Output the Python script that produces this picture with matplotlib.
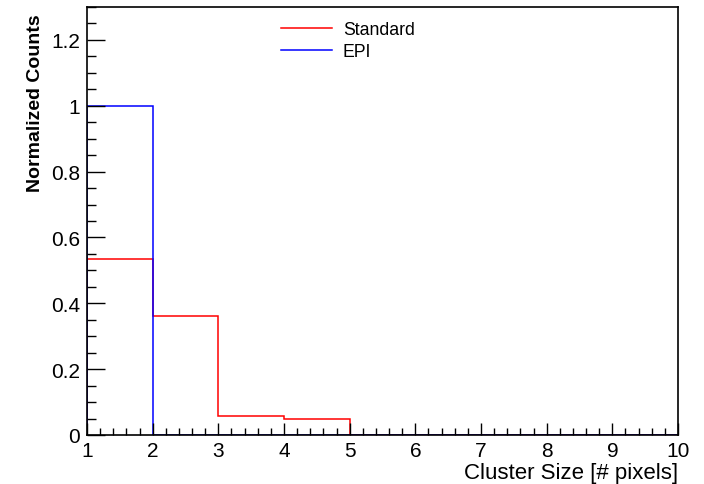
import numpy as np
import matplotlib
matplotlib.use('Agg')
import matplotlib.pyplot as plt
from matplotlib.ticker import MultipleLocator, FuncFormatter

plt.rcParams['font.family'] = ['Liberation Sans', 'DejaVu Sans']

# histogram data (bin edges = cluster size)
bin_edges = [1, 2, 3, 4, 5, 6, 7, 8, 9, 10]
standard_counts = [0.535, 0.362, 0.059, 0.049, 0, 0, 0, 0, 0]
epi_counts = [1.0, 0, 0, 0, 0, 0, 0, 0, 0]

fig = plt.figure(figsize=(7.04, 4.85), dpi=100)
ax = fig.add_axes([87 / 704, 1 - 436 / 485, (678 - 87) / 704, (436 - 8) / 485])

ax.stairs(standard_counts, bin_edges, baseline=0, color='#ff0000', lw=1.1, label='Standard')
ax.stairs(epi_counts, bin_edges, baseline=0, color='#0000ff', lw=1.1, label='EPI')

ax.set_xlim(1, 10)
ax.set_ylim(0, 1.3)

ax.xaxis.set_major_locator(MultipleLocator(1))
ax.xaxis.set_minor_locator(MultipleLocator(0.2))
ax.yaxis.set_major_locator(MultipleLocator(0.2))
ax.yaxis.set_minor_locator(MultipleLocator(0.05))


def fmt(v, pos):
    s = f"{v:.1f}"
    return s[:-2] if s.endswith('.0') else s


ax.xaxis.set_major_formatter(FuncFormatter(fmt))
ax.yaxis.set_major_formatter(FuncFormatter(fmt))

ax.tick_params(axis='x', which='major', direction='in', length=9, width=1, labelsize=15, pad=4)
ax.tick_params(axis='x', which='minor', direction='in', length=5, width=1)
ax.tick_params(axis='y', which='major', direction='in', length=13, width=1, labelsize=15, pad=5)
ax.tick_params(axis='y', which='minor', direction='in', length=6.5, width=1)
for sp in ax.spines.values():
    sp.set_linewidth(1.2)
    sp.set_zorder(3)

ax.set_xlabel('Cluster Size [# pixels]', fontsize=16, loc='right')
ax.xaxis.set_label_coords(1.0, -0.064)
ax.set_ylabel('Normalized Counts', fontsize=14, fontweight='bold', loc='top')
ax.yaxis.set_label_coords(-0.072, 0.984)

leg = ax.legend(loc='upper left', bbox_to_anchor=(281 / 704, 1 - 22 / 485),
                bbox_transform=fig.transFigure, frameon=False, fontsize=12.7,
                handlelength=2.9, handletextpad=0.6, labelspacing=0.28,
                borderpad=0, borderaxespad=0)

fig.savefig('out.png', dpi=100)
